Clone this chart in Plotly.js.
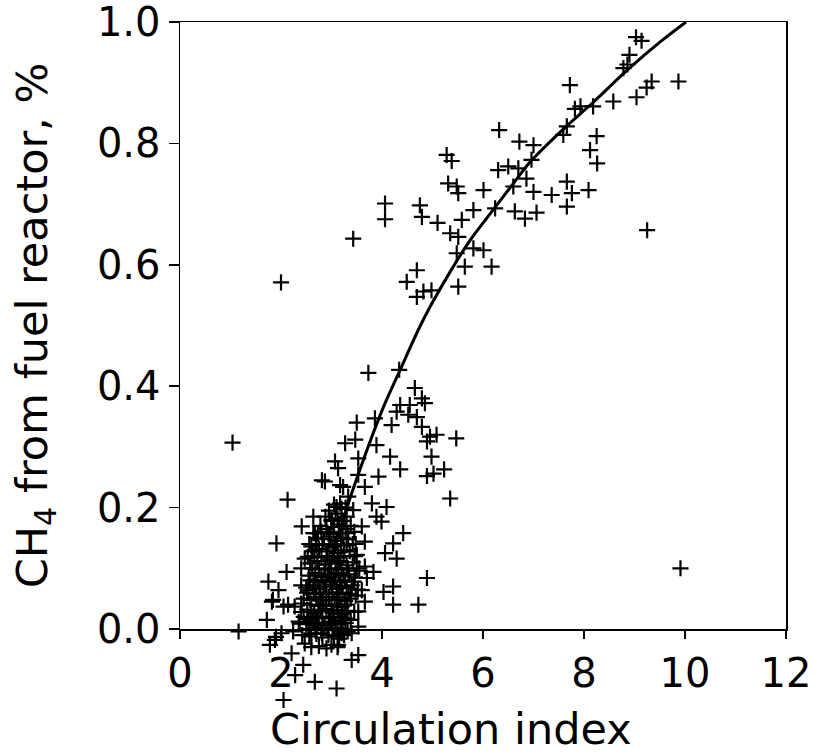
<!DOCTYPE html>
<html>
<head>
<meta charset="utf-8">
<script src="https://cdn.plot.ly/plotly-3.0.1.min.js"></script>
<style>
  html, body { margin: 0; padding: 0; background: #fff; }
  #chart { width: 813px; height: 755px; }
</style>
</head>
<body>
<div id="chart"></div>
<script>
// Fitted curve, points
const fitX = [2.65, 2.9, 3.23, 3.56, 4.03, 4.36, 4.72, 4.96, 5.36, 5.75, 6.15, 6.61, 6.94, 7.57, 8.20, 8.86, 9.52, 10.02];
const fitY = [0.0, 0.08, 0.18, 0.262, 0.366, 0.427, 0.493, 0.532, 0.59, 0.641, 0.685, 0.735, 0.770, 0.822, 0.869, 0.921, 0.968, 1.0];

// Scattered outliers
const outX = [1.04, 1.16, 2.00, 3.43, 9.91, 9.25];
const outY = [0.307, -0.004, 0.571, 0.643, 0.100, 0.657];

// Upper-right group
const upX = [9.03, 9.14, 8.90, 8.86, 8.78, 7.72, 9.34, 9.24, 9.87, 9.04, 8.58, 7.82, 7.93, 8.18, 7.66, 7.59, 8.25, 8.12, 8.26, 7.66, 8.09, 7.76, 7.66,
  6.32, 6.72, 7.00, 6.96, 5.28, 5.38, 6.30, 6.50, 6.70, 6.86, 6.60, 5.31, 5.48, 5.51, 6.01, 7.00, 7.36, 4.06, 4.06, 4.75, 4.79, 5.10, 5.58, 5.81, 6.24,
  6.63, 6.83, 7.06, 5.35, 5.51, 5.81, 6.01, 5.48, 5.64, 6.17, 4.69, 4.49, 4.82, 4.98, 4.69, 5.51];
const upY = [0.975, 0.969, 0.946, 0.930, 0.924, 0.896, 0.902, 0.892, 0.902, 0.876, 0.869, 0.857, 0.861, 0.861, 0.828, 0.814, 0.812, 0.789, 0.767, 0.737, 0.723, 0.718, 0.696,
  0.822, 0.803, 0.797, 0.773, 0.781, 0.771, 0.756, 0.762, 0.759, 0.742, 0.729, 0.734, 0.729, 0.718, 0.723, 0.720, 0.715, 0.701, 0.675, 0.698, 0.679, 0.669, 0.674, 0.690, 0.693,
  0.688, 0.676, 0.686, 0.652, 0.646, 0.627, 0.624, 0.619, 0.597, 0.597, 0.591, 0.572, 0.556, 0.558, 0.547, 0.564];

// Middle group
const midX = [3.73, 4.34, 4.65, 4.79, 4.36, 4.55, 4.29, 4.52, 4.69, 4.85, 3.50, 3.86, 4.19, 4.79, 4.95, 5.08, 5.47, 4.89, 3.27, 3.47, 3.89, 3.53, 4.16, 4.98,
  3.07, 4.36, 3.13, 3.53, 3.93, 4.89, 5.02, 5.23, 5.35, 3.17, 3.66, 3.33, 3.80, 4.09, 3.10, 3.89, 3.99, 4.42, 4.22, 4.06, 4.29, 3.66, 3.83, 3.70, 4.22,
  4.03, 4.22, 3.66, 3.53, 3.40, 3.20, 3.13, 3.53, 3.40, 3.10, 4.89, 4.72, 2.81];
const midY = [0.422, 0.427, 0.397, 0.380, 0.369, 0.369, 0.358, 0.353, 0.349, 0.372, 0.340, 0.347, 0.336, 0.333, 0.317, 0.320, 0.314, 0.309, 0.306, 0.312, 0.303, 0.281, 0.284, 0.284,
  0.276, 0.263, 0.265, 0.254, 0.251, 0.252, 0.256, 0.263, 0.215, 0.237, 0.234, 0.218, 0.207, 0.201, 0.201, 0.185, 0.177, 0.158, 0.141, 0.125, 0.116, 0.144, 0.094, 0.084, 0.070,
  0.061, 0.040, 0.045, 0.029, -0.007, -0.007, -0.026, -0.043, -0.051, -0.098, 0.084, 0.040, 0.245];

// Left group
const leftX = [2.13, 1.91, 2.64, 2.41, 2.11, 1.75, 1.95, 1.82, 2.05, 1.72, 1.78, 1.90, 2.21, 2.44, 2.28, 2.67, 2.05,
  2.40, 1.84, 2.14, 2.27, 2.40, 2.53, 2.67, 2.47, 2.40, 2.60, 2.67, 2.53, 2.37, 2.24, 2.01, 1.88, 2.47, 2.73, 2.60, 2.53,
  2.87, 3.23, 3.17, 3.43, 3.60, 3.00, 2.73, 3.66, 3.60, 3.53, 2.81];
const leftY = [0.213, 0.141, 0.185, 0.169, 0.094, 0.078, 0.064, 0.045, 0.037, 0.015, -0.026, -0.013, -0.040, -0.059, -0.076, -0.087, -0.117,
  0.072, 0.048, 0.040, 0.037, 0.042, 0.064, 0.081, 0.116, 0.100, 0.136, 0.158, 0.119, 0.009, -0.004, -0.007, -0.018, -0.024, 0.009, -0.007, 0.018,
  0.243, 0.234, 0.207, 0.196, 0.169, 0.180, 0.158, 0.103, 0.064, 0.004, -0.007];

// Dense cluster near the start of the fit
const denseX = [2.95, 3.08, 3.20, 3.30, 3.00,
  2.78, 2.90, 3.05, 3.15, 3.28, 3.38, 3.45,
  2.70, 2.85, 2.98, 3.10, 3.22, 3.33, 3.48,
  2.62, 2.75, 2.90, 3.02, 3.12, 3.25, 3.36, 3.50,
  2.58, 2.72, 2.86, 2.96, 3.08, 3.18, 3.30, 3.42, 3.55,
  2.55, 2.68, 2.80, 2.93, 3.04, 3.14, 3.24, 3.35, 3.46,
  2.50, 2.64, 2.76, 2.88, 3.00, 3.10, 3.20, 3.30, 3.40, 3.52,
  2.45, 2.58, 2.70, 2.83, 2.95, 3.06, 3.16, 3.27, 3.38,
  2.40, 2.52, 2.66, 2.78, 2.90, 3.02, 3.12, 3.22, 3.32, 3.45,
  2.35, 2.50, 2.62, 2.74, 2.86, 2.98, 3.08, 3.18, 3.28,
  2.42, 2.56, 2.70, 2.82, 2.94, 3.05, 3.15, 3.25,
  2.60, 2.75, 2.90, 3.00, 3.12,
  2.64, 2.80, 2.94, 3.04, 3.18, 3.32,
  2.56, 2.69, 2.82, 2.96, 3.07, 3.19, 3.30, 3.42,
  2.66, 2.80, 2.92, 3.04, 3.14, 3.24, 3.46,
  2.62, 2.75, 2.88, 2.99, 3.10, 3.20, 3.32, 3.50,
  2.58, 2.72, 2.84, 2.97, 3.07, 3.17, 3.27, 3.44,
  2.52, 2.65, 2.78, 2.90, 3.02, 3.12, 3.22, 3.34, 3.48,
  2.60, 2.74, 2.88, 3.00, 3.10, 3.20, 3.30,
  2.45, 2.58, 2.70, 2.82, 2.95, 3.05, 3.15, 3.26, 3.38,
  2.55, 2.68, 2.80, 2.92, 3.02, 3.12, 3.22, 3.32,
  2.88, 3.12, 3.24, 3.05, 3.28];
const denseY = [0.195, 0.190, 0.198, 0.185, 0.178,
  0.170, 0.165, 0.168, 0.172, 0.165, 0.170, 0.160,
  0.150, 0.148, 0.152, 0.145, 0.150, 0.148, 0.140,
  0.128, 0.132, 0.128, 0.135, 0.125, 0.130, 0.128, 0.122,
  0.108, 0.112, 0.106, 0.113, 0.108, 0.112, 0.105, 0.110, 0.100,
  0.088, 0.092, 0.086, 0.090, 0.085, 0.092, 0.088, 0.090, 0.085,
  0.068, 0.072, 0.066, 0.070, 0.073, 0.066, 0.070, 0.068, 0.072, 0.065,
  0.050, 0.048, 0.052, 0.047, 0.053, 0.048, 0.052, 0.046, 0.050,
  0.028, 0.032, 0.026, 0.030, 0.033, 0.027, 0.031, 0.025, 0.030, 0.028,
  0.012, 0.008, 0.014, 0.010, 0.006, 0.012, 0.008, 0.014, 0.010,
  -0.010, -0.012, -0.008, -0.014, -0.010, -0.012, -0.016, -0.010,
  -0.030, -0.028, -0.032, -0.026, -0.030,
  0.158, 0.160, 0.157, 0.160, 0.158, 0.158,
  0.140, 0.138, 0.140, 0.140, 0.138, 0.140, 0.138, 0.140,
  0.120, 0.118, 0.120, 0.120, 0.118, 0.120, 0.120,
  0.100, 0.098, 0.100, 0.098, 0.100, 0.098, 0.100, 0.096,
  0.080, 0.078, 0.080, 0.078, 0.080, 0.078, 0.080, 0.078,
  0.060, 0.058, 0.060, 0.058, 0.060, 0.058, 0.060, 0.058, 0.055,
  0.040, 0.038, 0.040, 0.038, 0.040, 0.036, 0.040,
  0.020, 0.018, 0.020, 0.018, 0.020, 0.018, 0.020, 0.018, 0.015,
  0.000, 0.002, -0.002, 0.000, 0.002, -0.002, 0.000, -0.004,
  0.185, 0.182, 0.178, 0.205, 0.200];

const xTicks = [0, 2, 4, 6, 8, 10, 12];
const yTicks = [0.0, 0.2, 0.4, 0.6, 0.8, 1.0];
const xTitle = 'Circulation index';
const yTitle = 'CH<sub>4</sub> from fuel reactor, %';

const allX = [].concat(outX, upX, midX, leftX, denseX);
const allY = [].concat(outY, upY, midY, leftY, denseY);

const FONT = 'DejaVu Sans, Liberation Sans, Arial, sans-serif';

// Geometry: plot area spans y 22..715 px; visible frame (0..1) occupies 22..629 px.
const H_PLOT = 755 - 22 - 40;            // 693
const H_FRAME = 629 - 22;                // 607
const frameBottom = 1 - H_FRAME / H_PLOT; // domain start of visible y axis
const y2Min = 1 - H_PLOT / H_FRAME;       // same scale, extended downwards

const traces = [
  {
    x: allX, y: allY, xaxis: 'x', yaxis: 'y2', type: 'scatter', mode: 'markers',
    marker: { symbol: 'cross-thin-open', size: 11.5, color: '#000', line: { color: '#000', width: 2.2 } },
    hoverinfo: 'x+y', showlegend: false
  },
  {
    x: fitX, y: fitY, xaxis: 'x', yaxis: 'y', type: 'scatter', mode: 'lines', cliponaxis: false,
    line: { color: '#000', width: 3, shape: 'spline', smoothing: 0.8 },
    showlegend: false
  }
];

const layout = {
  width: 813, height: 755,
  paper_bgcolor: '#fff', plot_bgcolor: 'rgba(0,0,0,0)',
  margin: { l: 180, r: 27, t: 22, b: 40 },
  font: { family: FONT, color: '#000', size: 40 },
  showlegend: false,
  xaxis: {
    range: [0, 12], tickvals: xTicks, ticktext: xTicks.map(String),
    anchor: 'y',
    ticks: 'outside', ticklen: 8, tickwidth: 1.5, tickcolor: '#000',
    showline: true, linecolor: '#000', linewidth: 1.5, mirror: true,
    showgrid: false, zeroline: false, ticklabeloverflow: 'allow',
    tickfont: { family: FONT, size: 40, color: '#000' }
  },
  yaxis: {
    domain: [frameBottom, 1], anchor: 'x',
    range: [0, 1], tickvals: yTicks, ticktext: yTicks.map(v => v.toFixed(1)),
    ticks: 'outside', ticklen: 10, tickwidth: 1.5, tickcolor: '#000',
    showline: true, linecolor: '#000', linewidth: 1.5, mirror: true,
    showgrid: false, zeroline: false, ticklabeloverflow: 'allow',
    tickfont: { family: FONT, size: 40, color: '#000' },
    title: { text: yTitle, font: { family: FONT, size: 43, color: '#000' }, standoff: 36 }
  },
  yaxis2: {
    domain: [0, 1], anchor: 'x', range: [y2Min, 1],
    visible: false, showgrid: false, zeroline: false, fixedrange: true
  },
  annotations: [{
    text: xTitle, showarrow: false,
    xref: 'paper', yref: 'paper',
    x: (451 - 180) / 606, y: (715 - 729) / H_PLOT,
    xanchor: 'center', yanchor: 'middle',
    font: { family: FONT, size: 43, color: '#000' }
  }]
};

Plotly.newPlot('chart', traces, layout, { displayModeBar: false, staticPlot: true });
</script>
</body>
</html>
